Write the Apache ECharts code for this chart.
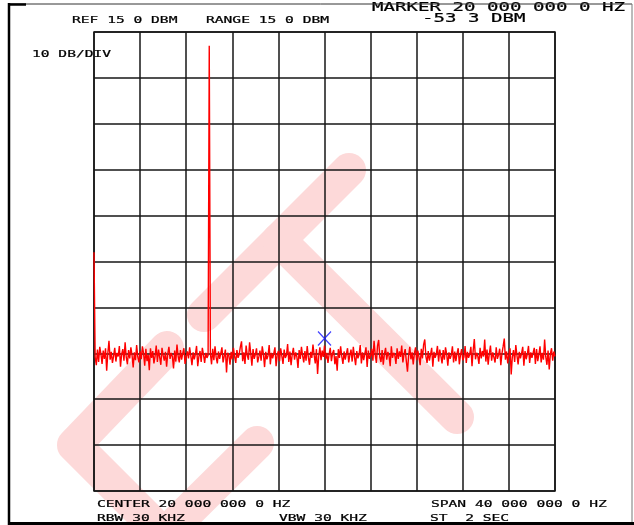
<!DOCTYPE html>
<html>
<head>
<meta charset="utf-8">
<title>Spectrum analyzer trace</title>
<script src="https://cdn.jsdelivr.net/npm/echarts@6/dist/echarts.min.js"></script>
<style>
  html, body { margin: 0; padding: 0; background: #ffffff; }
  #chart { width: 634px; height: 525px; }
</style>
</head>
<body>
<div id="chart"></div>
<script>
// Sweep settings (MHz / dBm)
const centerMHz = 20;
const spanMHz = 40;
const refLevel = 15;
const dbPerDiv = 10;
const divisions = 10;

// Measured trace, 401 sweep points, dBm
const traceDbm = [
  -33.0,
  -55.8,-57.6,-54.2,-56.9,-53.6,-55.1,-57.3,-54.4,-56.2,-53.9,-58.8,-55.0,-52.3,-56.4,-54.7,-57.1,-55.6,-53.8,-56.8,-54.9,
  -55.7,-53.4,-57.9,-55.2,-54.1,-56.6,-52.6,-55.9,-57.4,-54.3,-56.1,-53.7,-55.4,-58.1,-54.8,-56.5,-53.2,-55.8,-57.0,-54.6,
  -56.3,-53.5,-55.0,-57.7,-54.0,-56.7,-55.3,-58.7,-53.9,-56.0,-54.5,-57.2,-55.6,-53.3,-56.9,-54.2,-55.9,-57.5,-53.8,-55.5,
  -56.6,-54.7,-57.9,-55.1,-53.6,-56.2,-54.9,-55.7,-58.3,-54.4,-56.8,-53.1,-55.6,-57.0,-54.3,-56.4,-55.0,-53.9,-57.3,-55.8,
  -54.6,-56.1,-53.7,-55.5,-57.6,-54.8,-56.3,-55.2,-53.4,-57.8,-55.7,-54.5,-56.9,-53.8,-55.3,-57.1,-54.9,-56.0,-55.4,
  12.0,
  -55.1,-57.4,-54.0,-56.5,-53.5,-55.9,-57.2,-54.6,-56.2,-55.0,-53.7,-57.0,-55.6,-54.2,-59.2,-54.9,-55.4,-57.5,-54.7,-56.3,
  -53.8,-55.7,-57.1,-54.3,-56.0,-55.2,-53.6,-52.4,-56.7,-54.8,-57.3,-53.3,-55.5,-56.4,-52.6,-55.0,-57.7,-54.1,-56.2,-55.3,
  -53.9,-57.0,-55.8,-54.4,-56.6,-53.5,-55.1,-58.0,-54.7,-56.3,-55.5,-53.2,-57.4,-54.9,-56.1,-55.0,-53.7,-57.8,-55.3,-54.5,
  -56.7,-53.9,-55.6,-57.3,-54.2,-56.0,-55.4,-53.0,-56.9,-54.6,-57.6,-55.2,-53.8,-56.4,-54.8,-55.7,-58.2,-54.3,-56.2,-53.6,
  -55.5,-57.0,-54.5,-56.6,-53.4,-55.9,-57.5,-54.7,-56.0,-53.1,-55.4,-57.2,-54.1,-59.5,-55.6,-53.7,-56.5,-54.4,-55.8,
  -53.3,
  -56.3,-54.9,-57.1,-55.2,-53.8,-56.7,-55.0,-54.3,-57.4,-55.6,-58.8,-54.1,-56.0,-53.5,-55.7,-57.3,-54.6,-56.4,-55.1,-53.9,
  -57.0,-55.4,-54.2,-56.8,-53.6,-55.8,-57.6,-54.5,-56.1,-55.3,-53.2,-57.2,-54.8,-56.5,-55.0,-53.7,-58.0,-54.4,-56.2,-55.5,
  -54.0,-56.6,-52.3,-55.2,-57.1,-53.4,-52.1,-55.9,-56.9,-54.3,-57.5,-55.1,-53.8,-56.4,-54.7,-55.6,-57.8,-53.5,-56.0,-54.9,
  -55.4,-57.3,-53.9,-56.2,-54.6,-55.8,-53.3,-57.0,-55.2,-54.1,-56.7,-59.0,-55.5,-53.6,-56.3,-54.8,-57.4,-55.0,-53.7,-56.5,
  -54.4,-55.9,-57.6,-54.0,-56.1,-53.1,-52.0,-55.7,-57.1,-54.5,-56.6,-55.3,-53.8,-57.9,-54.7,-56.0,-55.2,-53.4,-56.8,-54.2,
  -55.6,-57.2,-54.3,-56.4,-53.7,-55.1,-57.7,-54.8,-56.2,-55.4,-53.5,-57.0,-54.6,-56.7,-55.0,-53.9,-57.4,-55.3,-54.1,-56.5,
  -55.8,-53.4,-57.1,-54.7,-56.0,-55.2,-53.6,-57.8,-54.4,-51.9,-56.3,-54.9,-55.6,-57.3,-53.8,-56.1,-54.5,-55.7,-52.0,-56.8,
  -54.2,-57.5,-55.1,-53.3,-56.6,-54.8,-55.9,-57.0,-53.7,-56.2,-55.4,-54.0,-57.6,-55.0,-53.5,-51.8,-56.4,-54.6,-57.2,-55.3,
  -53.9,-59.6,-55.7,-54.3,-56.9,-53.2,-55.5,-57.4,-54.7,-56.1,-55.0,-53.6,-57.7,-54.5,-56.3,-55.2,-53.4,-57.1,-54.8,-56.0,
  -55.6,-53.8,-57.3,-54.1,-56.7,-55.3,-53.5,-57.0,-54.9,-56.4,-52.0,-55.8,-57.5,-54.4,-58.5,-55.1,-53.9,-56.6,-54.6,-55.7
];

// Marker readout
const markerMHz = 20;
const markerDbm = -53.3;

// Annotation texts
const headerLeft = ['REF 15 0 DBM', 'RANGE 15 0 DBM'];
const headerMarker = ['MARKER 20 000 000 0 HZ', '-53 3 DBM'];
const scaleLabel = '10 DB/DIV';
const footerRow1 = ['CENTER 20 000 000 0 HZ', 'SPAN 40 000 000 0 HZ'];
const footerRow2 = ['RBW 30 KHZ', 'VBW 30 KHZ', 'ST  2 SEC'];

const startMHz = centerMHz - spanMHz / 2;
const stepMHz = spanMHz / (traceDbm.length - 1);
const traceData = traceDbm.map((v, i) => [startMHz + i * stepMHz, v]);

const bottomLevel = refLevel - dbPerDiv * divisions;

const MONO = '"DejaVu Sans Mono", monospace';
const INK = '#161616';
const WASH = '#fdd9d9';

function label(text, x, y, size, sy) {
  return {
    type: 'text', x: x, y: y, z: 50, scaleY: sy, silent: true,
    style: { text: text, font: size + 'px ' + MONO, fill: '#000',
             stroke: '#000', lineWidth: 0.35,
             textAlign: 'left', textVerticalAlign: 'middle' }
  };
}
function band(points, w) {
  return {
    type: 'polyline', z: -10, silent: true,
    shape: { points: points },
    style: { stroke: WASH, lineWidth: w, lineCap: 'round', lineJoin: 'round', fill: null }
  };
}
function rule(x1, y1, x2, y2, w, c) {
  return {
    type: 'line', z: 60, silent: true,
    shape: { x1: x1, y1: y1, x2: x2, y2: y2 },
    style: { stroke: c, lineWidth: w }
  };
}

const chart = echarts.init(document.getElementById('chart'), null, { renderer: 'canvas' });

chart.setOption({
  animation: false,
  backgroundColor: '#ffffff',
  grid: {
    left: 94, top: 32, width: 461, height: 459,
    show: true, borderColor: INK, borderWidth: 1.5, backgroundColor: 'transparent'
  },
  xAxis: {
    type: 'value', min: startMHz, max: startMHz + spanMHz, interval: spanMHz / divisions,
    axisLine: { show: false }, axisTick: { show: false }, axisLabel: { show: false },
    splitLine: { show: true, lineStyle: { color: INK, width: 1.5 } }
  },
  yAxis: [
    {
      type: 'value', min: bottomLevel, max: refLevel, show: false
    },
    {
      type: 'value', min: 0, max: divisions, interval: 1,
      axisLine: { show: false }, axisTick: { show: false }, axisLabel: { show: false },
      splitLine: { show: true, lineStyle: { color: INK, width: 1.5 } }
    }
  ],
  series: [
    {
      type: 'line', yAxisIndex: 0, data: traceData,
      showSymbol: false, symbol: 'none', z: 5,
      lineStyle: { color: '#ff0000', width: 1.4 },
      emphasis: { disabled: true }
    },
    {
      type: 'scatter', yAxisIndex: 0, data: [[markerMHz, markerDbm]], z: 6,
      symbol: 'path://M0 0L10 10M10 0L0 10', symbolSize: [13, 14], symbolOffset: [0, -7],
      itemStyle: { color: 'none', borderColor: '#1515ff', borderWidth: 1.3 },
      emphasis: { disabled: true }
    }
  ],
  graphic: [
    // background logo wash
    band([[204, 315], [349, 170]], 34),
    band([[279, 240], [457, 417]], 34),
    band([[167, 348], [74, 445], [164, 535], [257, 443]], 34),

    // header
    label(headerMarker[0], 372, 8, 19.1, 0.67),
    label(headerMarker[1], 422, 19, 19.1, 0.67),
    label(headerLeft[0], 72, 21, 14.6, 0.61),
    label(headerLeft[1], 206, 21, 14.6, 0.61),
    label(scaleLabel, 32, 55, 14.6, 0.61),

    // footer
    label(footerRow1[0], 97, 505, 14.6, 0.61),
    label(footerRow1[1], 431, 505, 14.6, 0.61),
    label(footerRow2[0], 97, 519, 14.6, 0.61),
    label(footerRow2[1], 279, 519, 14.6, 0.61),
    label(footerRow2[2], 430, 519, 14.6, 0.61),

    // page frame
    rule(9, 4, 632, 4, 1, '#333'),
    rule(9, 4.5, 26, 4.5, 2.5, '#000'),
    rule(9, 3, 9, 525, 2.5, '#000'),
    rule(632, 4, 632, 522, 1, '#777'),
    rule(8, 523.5, 634, 523.5, 3, '#000')
  ]
});
</script>
</body>
</html>
